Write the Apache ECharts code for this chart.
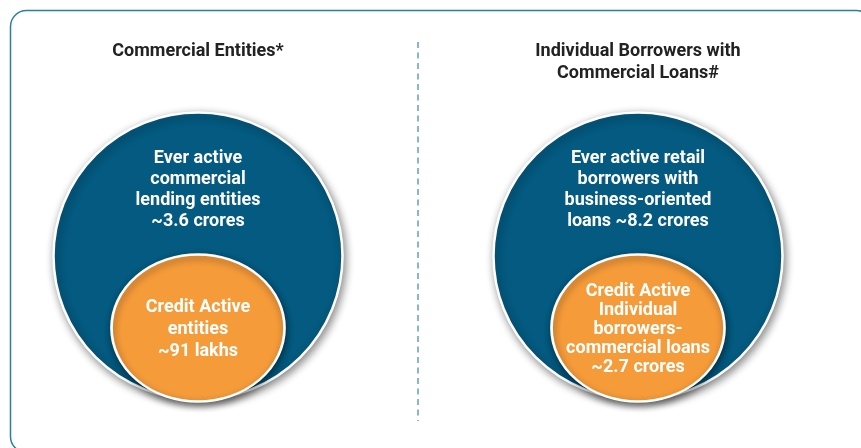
<!DOCTYPE html>
<html>
<head>
<meta charset="utf-8">
<script src="https://cdn.jsdelivr.net/npm/echarts@6/dist/echarts.min.js"></script>
<style>
html,body{margin:0;padding:0;background:#fff;}
#chart{width:861px;height:448px;}
</style>
</head>
<body>
<div id="chart"></div>
<script>
// ---- data ----
const panelTitles = ['Commercial Entities*', 'Individual Borrowers with\nCommercial Loans#'];
const panelIndex = [0, 1];
const outerLabels = [
  'Ever active\ncommercial\nlending entities\n~3.6 crores',
  'Ever active retail\nborrowers with\nbusiness-oriented\nloans ~8.2 crores'
];
const innerLabels = [
  'Credit Active\nentities\n~91 lakhs',
  'Credit Active\nIndividual\nborrowers-\ncommercial loans\n~2.7 crores'
];
const outerValues = [3.6, 8.2];   // crores
const innerValues = [0.91, 2.7];  // crores

// ---- chart ----
const chart = echarts.init(document.getElementById('chart'), null, {renderer: 'canvas'});
const FONT = 'Roboto, "Noto Sans", sans-serif';

const outerData = panelIndex.map(i => ({value: [i, 0], raw: outerValues[i], label: {formatter: outerLabels[i]}}));
const innerData = panelIndex.map(i => ({
  value: [i, 0], raw: innerValues[i],
  label: {formatter: innerLabels[i], lineHeight: i === 0 ? 22 : 19, offset: [0, i === 0 ? 1 : 1.5]}
}));

const option = {
  animation: false,
  backgroundColor: '#ffffff',
  title: panelIndex.map(i => ({
    text: panelTitles[i],
    left: i === 0 ? 198 : 638,
    top: 40,
    textAlign: 'center',
    padding: 0,
    textStyle: {fontFamily: FONT, fontSize: 18, fontWeight: 'bold', color: '#222222', lineHeight: 22}
  })),
  grid: {left: 0, top: 0, width: 861, height: 448, containLabel: false},
  xAxis: {type: 'value', min: -198 / 440, max: 663 / 440, show: false},
  yAxis: {type: 'value', min: -0.75, max: 1, show: false},
  graphic: [
    {
      type: 'rect', silent: true, z: 0,
      shape: {x: 10.5, y: 10.5, width: 862, height: 442, r: 16},
      style: {fill: null, stroke: '#2b7fa2', lineWidth: 1.5}
    },
    {
      type: 'line', silent: true, z: 0,
      shape: {x1: 418, y1: 42, x2: 418, y2: 421},
      style: {stroke: '#3a88ad', lineWidth: 1.2, lineDash: [6, 4.5]}
    }
  ],
  series: [
    {
      type: 'scatter',
      silent: true,
      symbol: 'circle',
      symbolSize: [289, 287],
      data: outerData,
      itemStyle: {
        color: '#045a80', borderColor: '#ffffff', borderWidth: 2.5, opacity: 1,
        shadowBlur: 8, shadowOffsetX: 2, shadowOffsetY: 3, shadowColor: 'rgba(0,0,0,0.45)'
      },
      label: {
        show: true, position: 'inside', offset: [0, -66],
        color: '#ffffff', fontFamily: FONT, fontSize: 18, fontWeight: 'bold',
        lineHeight: 21, align: 'center'
      },
      emphasis: {disabled: true},
      z: 2
    },
    {
      type: 'scatter',
      silent: true,
      symbol: 'circle',
      symbolSize: [173, 147],
      symbolOffset: [0, 72],
      data: innerData,
      itemStyle: {
        color: '#f59b3a', borderColor: '#ffffff', borderWidth: 2.5, opacity: 1,
        shadowBlur: 7, shadowOffsetX: 1, shadowOffsetY: 3, shadowColor: 'rgba(0,0,0,0.45)'
      },
      label: {
        show: true, position: 'inside',
        color: '#ffffff', fontFamily: FONT, fontSize: 18, fontWeight: 'bold',
        align: 'center'
      },
      emphasis: {disabled: true},
      z: 3
    }
  ]
};
chart.setOption(option);
</script>
</body>
</html>
